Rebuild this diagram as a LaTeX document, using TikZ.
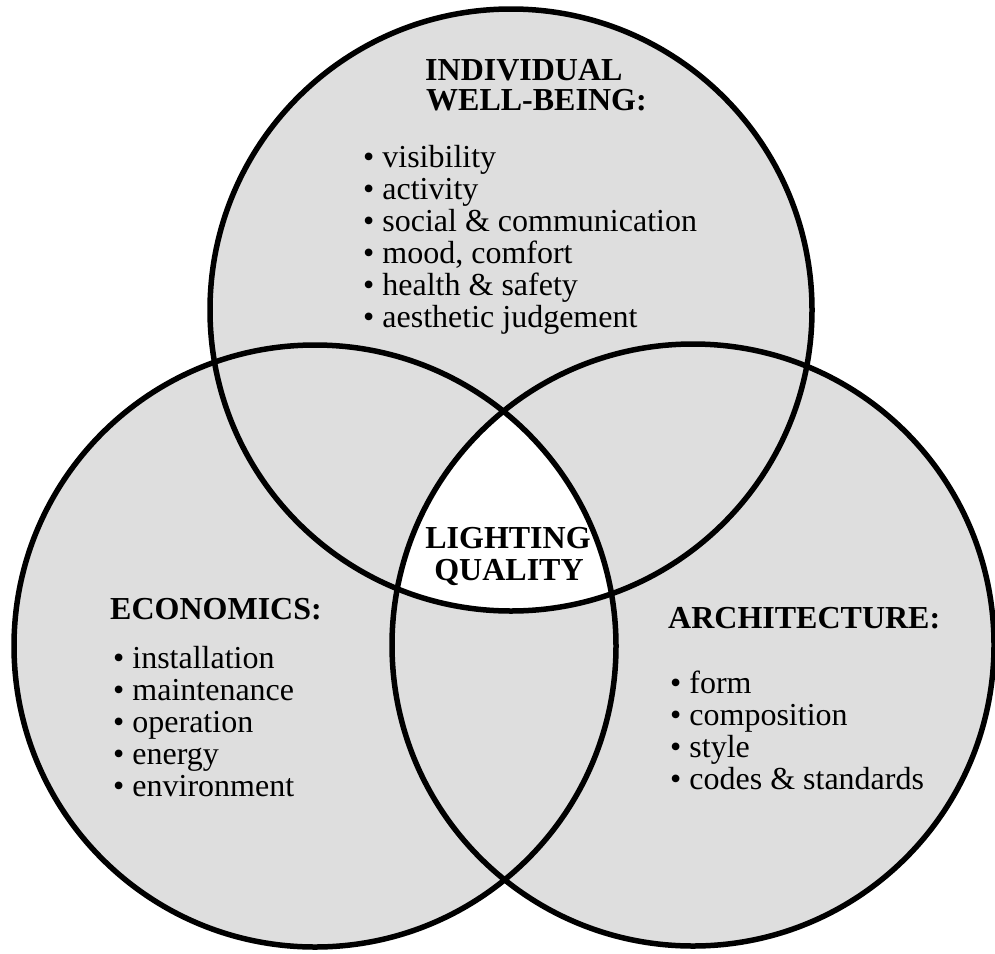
\documentclass[tikz,border=0pt]{standalone}
\usepackage{fontspec}
\setmainfont{Liberation Serif}
\definecolor{venngray}{RGB}{222,222,222}
\begin{document}
\begin{tikzpicture}[x=1pt,y=-1pt,
  ring/.style={line width=5.5pt,draw=black},
  head/.style={font=\fontsize{32}{32}\selectfont\bfseries,inner sep=0pt,anchor=base west},
  item/.style={font=\fontsize{32}{32}\selectfont,inner sep=0pt,anchor=base west}]
\useasboundingbox[fill=white] (0,0) rectangle (995,953);
\coordinate (ct) at (511,310);
\coordinate (cl) at (315,646);
\coordinate (cr) at (693,645);
% fills
\fill[venngray] (ct) circle[radius=301pt];
\fill[venngray] (cl) circle[radius=301pt];
\fill[venngray] (cr) circle[radius=301pt];
\begin{scope}
  \clip (ct) circle[radius=301pt];
  \clip (cl) circle[radius=301pt];
  \fill[white] (cr) circle[radius=301pt];
\end{scope}
% outlines
\draw[ring] (ct) circle[radius=301pt];
\draw[ring] (cl) circle[radius=301pt];
\draw[ring] (cr) circle[radius=301pt];
% individual well-being
\node[head] (wbh1) at (425,80) {INDIVIDUAL};
\node[head] (wbh2) at (426,110) {WELL-BEING:};
\foreach [count=\i] \t in {visibility,activity,social \& communication,{mood, comfort},health \& safety,aesthetic judgement}
  \node[item] (wb\i) at (363,{167+32*(\i-1)}) {• \t};
% lighting quality
\node[head,anchor=base] (lq1) at (508,548) {LIGHTING};
\node[head,anchor=base] (lq2) at (509,580) {QUALITY};
% economics
\node[head] (ech) at (110,619) {ECONOMICS:};
\foreach [count=\i] \t in {installation,maintenance,operation,energy,environment}
  \node[item] (ec\i) at (113,{668+32*(\i-1)}) {• \t};
% architecture
\node[head] (arh) at (668,628) {ARCHITECTURE:};
\foreach [count=\i] \t in {form,composition,style,codes \& standards}
  \node[item] (ar\i) at (670,{693+32*(\i-1)}) {• \t};
\end{tikzpicture}
\end{document}
